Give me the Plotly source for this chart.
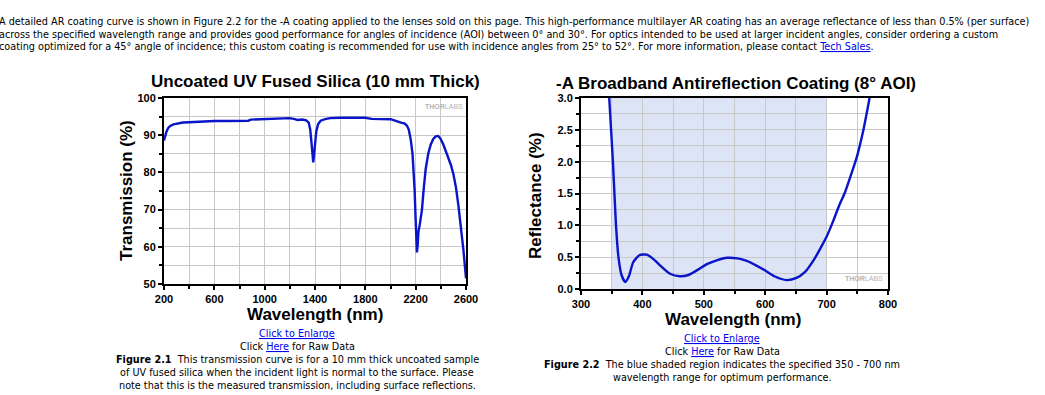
import plotly.graph_objects as go

W, H = 1045, 395

# ---------------- data ----------------
trans_wl = [200, 210, 220, 235, 250, 275, 300, 350, 400, 500, 600, 700, 800, 870, 890, 1000, 1100, 1200,
            1240, 1260, 1300, 1330, 1350, 1362, 1372, 1380, 1386, 1392, 1400, 1410, 1425, 1445, 1480,
            1520, 1600, 1800, 1850, 2000, 2030, 2060, 2090, 2110, 2130, 2145, 2160, 2175, 2185, 2192,
            2198, 2204, 2210, 2216, 2222, 2235, 2250, 2265, 2280, 2300, 2320, 2340, 2360, 2378, 2395,
            2420, 2450, 2480, 2500, 2520, 2540, 2560, 2580, 2600]
trans_val = [88.6, 90.0, 91.0, 92.0, 92.5, 92.9, 93.1, 93.4, 93.5, 93.7, 93.8, 93.8, 93.9, 93.9, 94.2, 94.3, 94.4, 94.6,
             94.3, 94.1, 94.2, 94.0, 93.4, 91.5, 88.0, 84.0, 82.7, 84.5, 88.0, 91.0, 93.0, 93.9, 94.3,
             94.6, 94.7, 94.7, 94.4, 94.3, 94.0, 93.6, 93.3, 93.2, 92.6, 91.5, 89.0, 85.0, 80.0, 75.0,
             69.0, 62.0, 58.5, 60.5, 64.0, 66.5, 70.0, 76.0, 81.0, 85.0, 87.5, 89.0, 89.7, 89.8, 89.2,
             87.5, 85.0, 82.0, 79.5, 76.0, 71.0, 65.5, 59.0, 51.5]

refl_wl = [346, 349, 352, 357, 361, 366, 372, 378, 385, 395, 407, 418, 430, 445, 461, 475, 490, 505, 521,
           538, 555, 570, 585, 600, 615, 635, 650, 665, 680, 690, 700, 710, 720, 730, 740, 750, 760, 770]
refl_val = [3.0, 2.5, 2.0, 1.0, 0.5, 0.22, 0.11, 0.2, 0.42, 0.53, 0.54, 0.47, 0.36, 0.24, 0.2, 0.22, 0.3, 0.39, 0.45,
            0.49, 0.48, 0.44, 0.37, 0.29, 0.2, 0.14, 0.17, 0.27, 0.47, 0.64, 0.82, 1.05, 1.3, 1.52, 1.8, 2.1, 2.5, 3.0]

band = [350, 700]

trans_xticks = [200, 600, 1000, 1400, 1800, 2200, 2600]
trans_yticks = [50, 60, 70, 80, 90, 100]
refl_xticks = [300, 400, 500, 600, 700, 800]
refl_yticks = [0.0, 0.5, 1.0, 1.5, 2.0, 2.5, 3.0]

# ---------------- helpers ----------------
def px(x):
    return x / W

def py(y):
    return 1 - y / H

LINE = "#0a14c8"
FONT = "Liberation Sans, Arial, sans-serif"
PAGE_FONT = "Tahoma, DejaVu Sans Condensed, Liberation Sans Narrow, DejaVu Sans, sans-serif"
PAGE_SIZE = 10.75

fig = go.Figure()
fig.add_trace(go.Scatter(x=trans_wl, y=trans_val, mode="lines", line=dict(color=LINE, width=2.4),
                         xaxis="x", yaxis="y", showlegend=False, hoverinfo="x+y"))
fig.add_trace(go.Scatter(x=refl_wl, y=refl_val, mode="lines", line=dict(color=LINE, width=2.4, shape="spline", smoothing=0.6),
                         xaxis="x2", yaxis="y2", showlegend=False, hoverinfo="x+y"))

axis_common = dict(showline=True, linecolor="black", linewidth=2, mirror=True, ticks="outside",
                   ticklen=4, tickwidth=1.5, tickcolor="black", showgrid=True, gridcolor="#c8c8c8",
                   gridwidth=1, zeroline=False, automargin=False,
                   tickfont=dict(family=FONT, size=11, color="black", weight="bold"))

fig.update_layout(
    width=W, height=H, margin=dict(l=0, r=0, t=0, b=0, autoexpand=False),
    paper_bgcolor="white", plot_bgcolor="white",
    xaxis=dict(domain=[px(164), px(466)], anchor="y", range=[200, 2600], tickmode="array",
               tickvals=trans_xticks, ticktext=[str(v) for v in trans_xticks],
               minor=dict(dtick=200, tick0=200, ticks="outside", ticklen=3, tickcolor="black", showgrid=True, gridcolor="#c8c8c8"),
               **axis_common),
    yaxis=dict(domain=[py(284), py(98)], anchor="x", range=[50, 100], tickmode="array",
               tickvals=trans_yticks, ticktext=[str(v) for v in trans_yticks],
               minor=dict(dtick=5, tick0=50, ticks="outside", ticklen=3, tickcolor="black", showgrid=True, gridcolor="#c8c8c8"),
               **axis_common),
    xaxis2=dict(domain=[px(581), px(888)], anchor="y2", range=[300, 800], tickmode="array",
                tickvals=refl_xticks, ticktext=[str(v) for v in refl_xticks],
                minor=dict(dtick=50, tick0=300, ticks="outside", ticklen=3, tickcolor="black", showgrid=True, gridcolor="#c8c8c8"),
                **axis_common),
    yaxis2=dict(domain=[py(289), py(98)], anchor="x2", range=[0, 3], tickmode="array",
                tickvals=refl_yticks, ticktext=[f"{v:.1f}" for v in refl_yticks],
                minor=dict(dtick=0.25, tick0=0, ticks="outside", ticklen=3, tickcolor="black", showgrid=True, gridcolor="#c8c8c8"),
                **axis_common),
)

fig.add_shape(type="rect", xref="x2", yref="y2", x0=band[0], x1=band[1], y0=0, y1=3,
              fillcolor="#dce4f5", line=dict(width=0), layer="below")

def ann(text, x, y, size=PAGE_SIZE, family=PAGE_FONT, color="black", xanchor="center", angle=0, bold=False, align="center"):
    fig.add_annotation(text=text, x=px(x), y=py(y), xref="paper", yref="paper", showarrow=False,
                       xanchor=xanchor, yanchor="middle", textangle=angle, align=align,
                       font=dict(family=family, size=size, color=color, weight="bold" if bold else "normal"))

# top paragraph
top_lines = [
    "A detailed AR coating curve is shown in Figure 2.2 for the -A coating applied to the lenses sold on this page. This high-performance multilayer AR coating has an average reflectance of less than 0.5% (per surface)",
    "across the specified wavelength range and provides good performance for angles of incidence (AOI) between 0° and 30°. For optics intended to be used at larger incident angles, consider ordering a custom",
    "coating optimized for a 45° angle of incidence; this custom coating is recommended for use with incidence angles from 25° to 52°. For more information, please contact "
    "<span style='color:#0000ee;text-decoration:underline'>Tech Sales</span>.",
]
for i, t in enumerate(top_lines):
    ann(t, -3, 22 + 12.5 * i, xanchor="left", align="left")

# chart titles
ann("Uncoated UV Fused Silica (10 mm Thick)", 315, 81, size=17, family=FONT, bold=True)
ann("-A Broadband Antireflection Coating (8° AOI)", 736, 83, size=17, family=FONT, bold=True)

# axis titles
ann("Transmission (%)", 126, 191, size=17, family=FONT, bold=True, angle=-90)
ann("Reflectance (%)", 535, 196, size=17, family=FONT, bold=True, angle=-90)
ann("Wavelength (nm)", 315, 314, size=17, family=FONT, bold=True)
ann("Wavelength (nm)", 733, 319, size=17, family=FONT, bold=True)

# watermarks
ann("<b>THOR</b>LABS", 444, 106, size=7, family=FONT, color="#b4b4b4")
ann("<b>THOR</b>LABS", 864, 278, size=7, family=FONT, color="#b4b4b4")

LINK = "<span style='color:#0000ee;text-decoration:underline'>%s</span>"
# captions chart 1
ann(LINK % "Click to Enlarge", 297, 333)
ann("Click " + (LINK % "Here") + " for Raw Data", 297, 346)
ann("<b>Figure 2.1</b>  This transmission curve is for a 10 mm thick uncoated sample", 297, 359)
ann("of UV fused silica when the incident light is normal to the surface. Please", 297, 372)
ann("note that this is the measured transmission, including surface reflections.", 297, 385)

# captions chart 2
ann(LINK % "Click to Enlarge", 722, 338)
ann("Click " + (LINK % "Here") + " for Raw Data", 722, 351)
ann("<b>Figure 2.2</b>  The blue shaded region indicates the specified 350 - 700 nm", 722, 364)
ann("wavelength range for optimum performance.", 722, 377)

fig.write_html("out.html", config={"displayModeBar": False},
               post_script="document.body.style.margin='0';document.body.style.overflow='hidden';")
